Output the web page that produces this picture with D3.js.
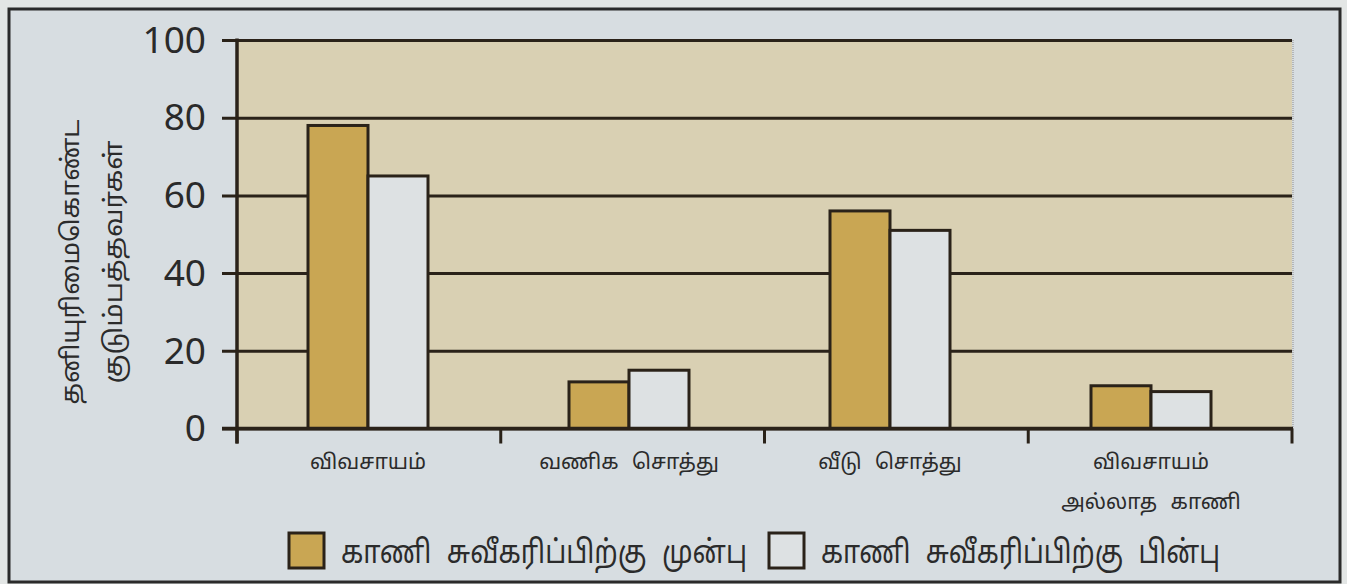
<!DOCTYPE html>
<html>
<head>
<meta charset="utf-8">
<script src="https://cdn.jsdelivr.net/npm/d3@7"></script>
<style>
  html, body { margin: 0; padding: 0; background: #e3e6e5; }
  svg { display: block; }
</style>
</head>
<body>
<div id="chart"></div>
<script>
// Land ownership before / after land acquisition (households, %)
const categories = ["விவசாயம்", "வணிக சொத்து", "வீடு சொத்து", "விவசாயம்\nஅல்லாத காணி"];
const seriesNames = ["காணி சுவீகரிப்பிற்கு முன்பு", "காணி சுவீகரிப்பிற்கு பின்பு"];
const beforeValues = [78, 12, 56, 11];
const afterValues = [65, 15, 51, 9.5];
const yTicks = [0, 20, 40, 60, 80, 100];
const yTitleLines = ["தனியுரிமைகொண்ட", "குடும்பத்தவர்கள்"];

const W = 1347, H = 584;
const ink = "#2a2219";
const textColor = "#2b2b2b";
const colors = ["#c9a653", "#dde1e3"];
const plot = { left: 237, right: 1292, top: 40, bottom: 428.5 };
const tamilFont = "'Noto Sans Tamil', 'Latha', 'Lohit Tamil', 'Noto Sans', sans-serif";

const svg = d3.select("#chart").append("svg").attr("width", W).attr("height", H);

// outer panel
svg.append("rect").attr("x", 9).attr("y", 9).attr("width", 1331).attr("height", 573)
  .attr("fill", "#d7dde1").attr("stroke", "#2b2b2b").attr("stroke-width", 3);

const y = d3.scaleLinear().domain([0, 100]).range([plot.bottom, plot.top]);
// category bands for the axis ticks
const x0 = d3.scaleBand().domain(categories).range([plot.left, plot.right]).padding(0);
// bar-pair positions (pairs sit on a slightly tighter pitch than the bands)
const xg = d3.scaleBand().domain(categories).range([plot.left + 71, plot.right + 60]).padding(0);
const x1 = d3.scaleBand().domain(seriesNames).range([0, 120]).padding(0);

// plot background
svg.append("rect").attr("x", plot.left).attr("y", plot.top)
  .attr("width", plot.right - plot.left).attr("height", plot.bottom - plot.top)
  .attr("fill", "#d9d0b3");
svg.append("line").attr("x1", plot.right + 1).attr("x2", plot.right + 1)
  .attr("y1", plot.top).attr("y2", plot.bottom)
  .attr("stroke", "#a8a8a8").attr("stroke-width", 1.5).attr("stroke-dasharray", "1,1");

// gridlines with outward ticks
const yAxis = d3.axisLeft(y).tickValues(yTicks).tickSize(-(plot.right - plot.left))
  .tickSizeOuter(0).tickFormat(d3.format("d")).tickPadding(0);
const gy = svg.append("g").attr("transform", `translate(${plot.left},0)`).call(yAxis);
gy.select(".domain").remove();
gy.selectAll(".tick line").attr("x1", -15).attr("stroke", ink).attr("stroke-width", 3);
gy.selectAll(".tick text")
  .attr("x", -31).attr("dy", "0.33em")
  .attr("font-family", "'Noto Sans', 'Open Sans', sans-serif").attr("font-size", 37)
  .attr("fill", "#2a2a2a");

// bars
const data = categories.map((c, i) => ({ cat: c, vals: [beforeValues[i], afterValues[i]] }));
const groups = svg.append("g").selectAll("g").data(data).join("g")
  .attr("transform", d => `translate(${xg(d.cat)},0)`);
groups.selectAll("rect").data(d => d.vals.map((v, k) => ({ name: seriesNames[k], v, k })))
  .join("rect")
  .attr("x", d => x1(d.name))
  .attr("y", d => y(d.v))
  .attr("width", x1.bandwidth())
  .attr("height", d => y(0) - y(d.v))
  .attr("fill", d => colors[d.k])
  .attr("stroke", ink).attr("stroke-width", 3);

// axis lines
svg.append("line").attr("x1", plot.left).attr("x2", plot.left)
  .attr("y1", plot.top - 1.5).attr("y2", plot.bottom + 15)
  .attr("stroke", ink).attr("stroke-width", 3.5);
svg.append("line").attr("x1", plot.left - 15).attr("x2", plot.right + 1)
  .attr("y1", plot.bottom).attr("y2", plot.bottom)
  .attr("stroke", ink).attr("stroke-width", 3.5);
const tickXs = categories.map(c => x0(c)).concat([x0(categories[categories.length - 1]) + x0.bandwidth()]);
svg.append("g").selectAll("line").data(tickXs).join("line")
  .attr("x1", d => d).attr("x2", d => d)
  .attr("y1", plot.bottom).attr("y2", plot.bottom + 15)
  .attr("stroke", ink).attr("stroke-width", 3);

// category labels, centred under each bar pair
const xl = svg.append("g").selectAll("text").data(categories).join("text")
  .attr("x", d => xg(d) + 60)
  .attr("y", 469)
  .attr("text-anchor", "middle")
  .attr("font-family", tamilFont).attr("font-size", 21)
  .attr("word-spacing", 8)
  .attr("fill", textColor);
xl.selectAll("tspan").data(d => d.split("\n")).join("tspan")
  .attr("x", function () { return d3.select(this.parentNode).attr("x"); })
  .attr("dy", (d, i) => i === 0 ? 0 : 40)
  .text(d => d);

// y title (two rotated lines)
const yTitleLen = [285, 243];
svg.append("g").selectAll("text").data(yTitleLines).join("text")
  .attr("transform", (d, i) => `translate(${[79, 122][i]},262) rotate(-90)`)
  .attr("text-anchor", "middle")
  .attr("font-family", tamilFont).attr("font-size", 25)
  .attr("textLength", (d, i) => yTitleLen[i]).attr("lengthAdjust", "spacingAndGlyphs")
  .attr("fill", textColor)
  .text(d => d);

// legend
const legendX = [289, 769];
const legendTextLen = [406, 399];
const lg = svg.append("g").selectAll("g").data(seriesNames).join("g")
  .attr("transform", (d, i) => `translate(${legendX[i]},533)`);
lg.append("rect").attr("width", 35).attr("height", 35)
  .attr("fill", (d, i) => colors[i]).attr("stroke", ink).attr("stroke-width", 3);
lg.append("text").attr("x", 52).attr("y", 30)
  .attr("font-family", tamilFont).attr("font-size", 32)
  .attr("word-spacing", 10)
  .attr("textLength", (d, i) => legendTextLen[i]).attr("lengthAdjust", "spacingAndGlyphs")
  .attr("fill", textColor)
  .text(d => d);
</script>
</body>
</html>
